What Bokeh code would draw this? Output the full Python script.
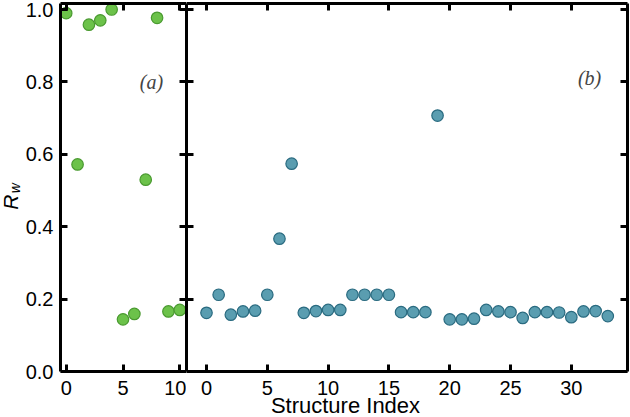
import math
from bokeh.plotting import figure
from bokeh.models import LinearAxis, FixedTicker, Range1d, Label, CustomJSTickFormatter, PrintfTickFormatter
from bokeh.layouts import row
from bokeh.core.properties import value
from bokeh.embed import file_html
from bokeh.resources import INLINE

# ---------------- data ----------------
idx_a = list(range(11))
rw_a = [0.990, 0.572, 0.958, 0.970, 1.000, 0.144, 0.159, 0.530, 0.977, 0.166, 0.170]

idx_b = list(range(34))
rw_b = [0.162, 0.212, 0.157, 0.166, 0.168, 0.212, 0.367, 0.574, 0.162, 0.167,
        0.170, 0.170, 0.212, 0.212, 0.212, 0.212, 0.164, 0.164, 0.164, 0.707,
        0.144, 0.144, 0.146, 0.170, 0.166, 0.164, 0.148, 0.164, 0.164, 0.163,
        0.150, 0.166, 0.167, 0.153]

x_ticks_a = [0, 5, 10]
x_ticks_b = [0, 5, 10, 15, 20, 25, 30]
y_ticks = [0.0, 0.2, 0.4, 0.6, 0.8, 1.0]

x_label = "Structure Index"
y_label_main = "R"
y_label_sub = "w"
panel_a = "(a)"
panel_b = "(b)"

GREEN_FILL, GREEN_EDGE = "#6cc24a", "#4a9a30"
BLUE_FILL, BLUE_EDGE = "#5a9db0", "#2a6b80"

TICK_FONT = "Liberation Sans"
Y_START = -0.12707   # frame continues below the x axis to hold the tick labels and title
Y_END = 1.0166
H = 417


def make_axis(ticks, labels=False, fmt=None, standoff=6, bounds=None, fixed=None):
    ax = LinearAxis(ticker=FixedTicker(ticks=ticks))
    ax.major_tick_in = 7
    ax.major_tick_out = 0
    ax.major_tick_line_width = 3
    ax.major_tick_line_color = "black"
    ax.minor_tick_line_color = None
    ax.axis_line_color = "black"
    ax.axis_line_width = 3
    if bounds is not None:
        ax.bounds = bounds
    if fixed is not None:
        ax.fixed_location = fixed
    if labels:
        ax.major_label_text_font = TICK_FONT
        ax.major_label_text_font_size = "20px"
        ax.major_label_text_color = "black"
        ax.major_label_standoff = standoff
        if fmt is not None:
            ax.formatter = fmt
    else:
        ax.formatter = CustomJSTickFormatter(code="return ''")
        ax.major_label_standoff = 0
        ax.major_label_text_font_size = "0px"
    return ax


def base_fig(frame_w, x_start, x_end, mb_left, mb_right):
    p = figure(frame_width=frame_w, frame_height=414,
               min_border_left=mb_left, min_border_right=mb_right,
               min_border_top=3, min_border_bottom=0,
               x_range=Range1d(x_start, x_end), y_range=Range1d(Y_START, Y_END),
               x_axis_location=None, y_axis_location=None,
               toolbar_location=None, output_backend="svg")
    p.grid.visible = False
    p.outline_line_color = None
    p.background_fill_color = "white"
    p.border_fill_color = "white"
    return p


def blank_fig(w, h):
    p = figure(width=w, height=h, x_range=Range1d(0, w), y_range=Range1d(0, h),
               x_axis_location=None, y_axis_location=None, min_border=0,
               toolbar_location=None, output_backend="svg")
    p.grid.visible = False
    p.outline_line_color = None
    p.background_fill_color = "white"
    p.border_fill_color = "white"
    return p


# ---------------- y-axis title R_w ----------------
ylab = blank_fig(22, H)
ylab.text(x=[10], y=[H - 200], text=[y_label_main], angle=math.pi / 2,
          text_font=value(TICK_FONT), text_font_style="italic", text_font_size="21px",
          text_align="center", text_baseline="middle", text_color="black")
ylab.text(x=[14.5], y=[H - 186], text=[y_label_sub], angle=math.pi / 2,
          text_font=value(TICK_FONT), text_font_style="italic", text_font_size="14px",
          text_align="center", text_baseline="middle", text_color="black")

YB = (0, Y_END)

# ---------------- panel (a) ----------------
pa = base_fig(126, -0.502, 10.59, 38, 0)
pa.add_layout(make_axis(x_ticks_a, labels=True, standoff=9, fixed=0), "below")
pa.add_layout(make_axis(x_ticks_a), "above")
pa.add_layout(make_axis(y_ticks, labels=True, fmt=PrintfTickFormatter(format="%.1f"),
                        standoff=7, bounds=YB), "left")
pa.add_layout(make_axis(y_ticks, bounds=YB), "right")
pa.scatter(idx_a, rw_a, size=11.5, fill_color=GREEN_FILL, line_color=GREEN_EDGE, line_width=1.2)
pa.add_layout(Label(x=7.51, y=0.8, text=panel_a, text_font="Liberation Serif",
                    text_font_style="italic", text_font_size="20px",
                    text_align="center", text_baseline="middle"))

# ---------------- panel (b) ----------------
pb = base_fig(441, -1.645, 34.62, 0, 3)
pb.add_layout(make_axis(x_ticks_b, labels=True, standoff=9, fixed=0), "below")
pb.add_layout(make_axis(x_ticks_b), "above")
pb.add_layout(make_axis(y_ticks, bounds=YB), "left")
pb.add_layout(make_axis(y_ticks, bounds=YB), "right")
pb.scatter(idx_b, rw_b, size=11.5, fill_color=BLUE_FILL, line_color=BLUE_EDGE, line_width=1.2)
pb.add_layout(Label(x=31.5, y=0.81, text=panel_b, text_font="Liberation Serif",
                    text_font_style="italic", text_font_size="20px",
                    text_align="center", text_baseline="middle"))
# x-axis title, below the tick labels
pb.text(x=[11.43], y=[-0.0939], text=[x_label], text_font=value(TICK_FONT),
        text_font_size="22px", text_align="center", text_baseline="middle",
        text_color="black")

layout = row(ylab, pa, pb, spacing=0)
open("out.html", "w").write(file_html(layout, INLINE))
